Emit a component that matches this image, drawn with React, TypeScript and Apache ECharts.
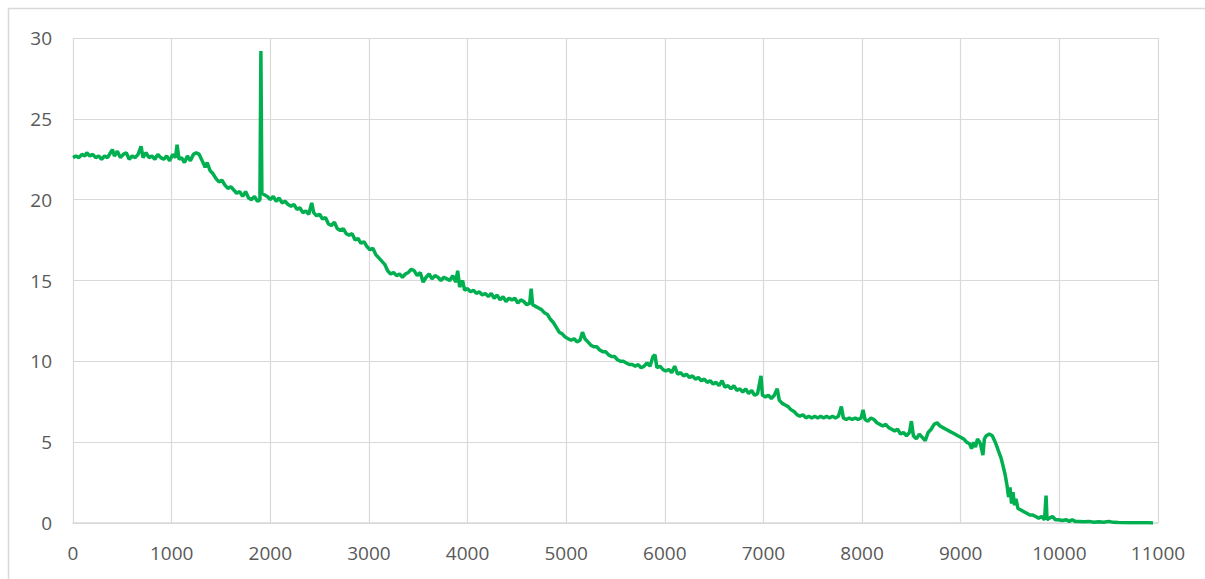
import React, { useEffect, useRef } from "react";
import * as echarts from "echarts";

const xTicks = { min: 0, max: 11000, interval: 1000 };
const yTicks = { min: 0, max: 30, interval: 5 };

const plateau: [number, number][] = [
  [0, 22.6], [30, 22.7], [60, 22.6], [90, 22.8], [120, 22.7], [140, 22.9], [170, 22.7], [200, 22.8],
  [230, 22.6], [260, 22.7], [290, 22.5], [320, 22.7], [350, 22.6], [380, 22.9], [400, 23.1], [420, 22.7],
  [450, 23.0], [480, 22.6], [510, 22.8], [540, 22.9], [570, 22.5], [600, 22.7], [630, 22.6], [660, 22.8],
  [690, 23.3], [710, 22.6], [740, 22.9], [770, 22.6], [800, 22.7], [830, 22.5], [860, 22.8], [890, 22.6],
  [920, 22.5], [950, 22.7], [980, 22.4], [1010, 22.8], [1040, 22.6], [1055, 23.4], [1075, 22.5], [1100, 22.6],
  [1130, 22.3], [1160, 22.7], [1190, 22.4], [1220, 22.8], [1250, 22.9], [1280, 22.8], [1310, 22.4], [1340, 22.0],
  [1360, 22.3],
];

const firstDecline: [number, number][] = [
  [1390, 21.8], [1420, 21.6], [1450, 21.3], [1480, 21.1], [1510, 21.2], [1540, 20.9], [1570, 20.7], [1600, 20.8],
  [1630, 20.6], [1660, 20.4], [1690, 20.5], [1720, 20.2], [1750, 20.5], [1780, 20.1], [1810, 20.0], [1840, 20.2],
  [1870, 19.9], [1895, 20.0], [1905, 29.2], [1915, 20.4], [1940, 20.3], [1970, 20.2], [2000, 20.0], [2030, 20.2],
  [2060, 19.9], [2090, 20.1], [2120, 19.8], [2150, 19.9], [2180, 19.7], [2210, 19.6], [2240, 19.7], [2270, 19.4],
  [2300, 19.5], [2330, 19.2], [2360, 19.3], [2390, 19.1], [2420, 19.8], [2440, 19.2], [2470, 19.0], [2500, 19.1],
  [2530, 18.8], [2560, 18.9], [2590, 18.5], [2620, 18.4], [2650, 18.6], [2680, 18.2], [2710, 18.1], [2740, 18.2],
  [2770, 17.9], [2800, 17.8], [2830, 17.9], [2860, 17.5], [2890, 17.6], [2920, 17.3], [2950, 17.4], [2980, 17.1],
  [3010, 16.9], [3040, 17.0], [3070, 16.6], [3100, 16.4], [3130, 16.2], [3160, 16.0], [3190, 15.6], [3220, 15.4],
  [3250, 15.5], [3280, 15.3], [3310, 15.4], [3340, 15.2], [3370, 15.4], [3400, 15.5], [3430, 15.7], [3460, 15.6],
  [3490, 15.3], [3520, 15.5], [3550, 14.9], [3580, 15.2], [3610, 15.4], [3640, 15.1], [3670, 15.3], [3700, 15.2],
  [3730, 15.0], [3760, 15.2], [3790, 15.1], [3820, 15.0], [3850, 15.3], [3880, 14.9], [3900, 15.6], [3920, 14.6],
  [3950, 15.0], [3970, 14.4], [4000, 14.5], [4030, 14.3], [4060, 14.4], [4090, 14.2], [4120, 14.3], [4150, 14.1],
  [4180, 14.2], [4210, 14.0], [4240, 14.2], [4270, 13.9], [4300, 14.1], [4330, 13.8], [4360, 14.0], [4390, 13.7],
  [4420, 13.9], [4450, 13.8], [4480, 13.9], [4510, 13.6], [4540, 13.8], [4570, 13.7], [4600, 13.5], [4630, 13.6],
  [4645, 14.5], [4660, 13.5], [4690, 13.4], [4720, 13.3], [4750, 13.2], [4780, 13.0], [4810, 12.9], [4840, 12.6],
  [4870, 12.4], [4900, 12.1], [4930, 11.8], [4960, 11.7], [4990, 11.5],
];

const middleDecline: [number, number][] = [
  [5020, 11.4], [5050, 11.3], [5080, 11.4], [5110, 11.2], [5140, 11.3], [5165, 11.8], [5190, 11.4], [5220, 11.2],
  [5250, 11.0], [5280, 10.9], [5310, 10.9], [5340, 10.7], [5370, 10.6], [5400, 10.6], [5430, 10.4], [5460, 10.3],
  [5490, 10.3], [5520, 10.1], [5550, 10.0], [5580, 10.0], [5610, 9.9], [5640, 9.8], [5670, 9.8], [5700, 9.7],
  [5730, 9.8], [5760, 9.6], [5790, 9.7], [5820, 9.9], [5850, 9.7], [5880, 10.3], [5900, 10.4], [5920, 9.6],
  [5950, 9.7], [5980, 9.5], [6010, 9.4], [6040, 9.5], [6070, 9.3], [6100, 9.7], [6130, 9.2], [6160, 9.3],
  [6190, 9.1], [6220, 9.2], [6250, 9.0], [6280, 9.1], [6310, 8.9], [6340, 9.0], [6370, 8.8], [6400, 8.9],
  [6430, 8.7], [6460, 8.8], [6490, 8.6], [6520, 8.7], [6550, 8.5], [6580, 8.8], [6610, 8.4], [6640, 8.5],
  [6670, 8.3], [6700, 8.5], [6730, 8.2], [6760, 8.3], [6790, 8.1], [6820, 8.3], [6850, 8.0], [6880, 8.2],
  [6910, 7.9], [6940, 8.0], [6975, 9.1], [6990, 7.9], [7020, 7.8], [7050, 7.9], [7080, 7.7], [7110, 7.9],
  [7140, 8.3], [7160, 7.6], [7190, 7.4], [7220, 7.3], [7250, 7.2], [7280, 7.0], [7310, 6.9], [7340, 6.7],
  [7370, 6.6], [7400, 6.7], [7430, 6.5], [7460, 6.6], [7490, 6.5], [7520, 6.6], [7550, 6.5], [7580, 6.6],
  [7610, 6.5], [7640, 6.6], [7670, 6.5], [7700, 6.6], [7730, 6.5], [7760, 6.6], [7790, 7.2], [7810, 6.5],
  [7840, 6.4], [7870, 6.5], [7900, 6.4], [7930, 6.5], [7960, 6.4], [7990, 6.5], [8010, 7.0], [8030, 6.4],
  [8060, 6.3], [8090, 6.5], [8120, 6.4], [8150, 6.2], [8180, 6.1], [8210, 6.0], [8240, 6.1], [8270, 5.9],
  [8300, 5.8], [8330, 5.7], [8360, 5.8], [8390, 5.5], [8420, 5.6], [8450, 5.4], [8480, 5.6], [8500, 6.3],
  [8520, 5.4], [8550, 5.2], [8580, 5.5], [8610, 5.3], [8640, 5.1], [8670, 5.6], [8700, 5.8], [8730, 6.1],
  [8760, 6.2], [8790, 6.0], [8820, 5.9], [8850, 5.8], [8880, 5.7], [8910, 5.6], [8940, 5.5], [8970, 5.4],
  [9000, 5.3], [9030, 5.2], [9060, 5.0], [9090, 4.9], [9110, 4.6], [9130, 5.0], [9150, 4.7], [9170, 5.2],
  [9200, 4.9], [9225, 4.2], [9240, 5.2], [9260, 5.4], [9290, 5.5], [9320, 5.4],
];

const tail: [number, number][] = [
  [9350, 5.0], [9380, 4.5], [9410, 4.0], [9430, 3.5], [9450, 3.0], [9470, 2.3], [9485, 1.6], [9500, 2.2],
  [9515, 1.2], [9530, 1.9], [9545, 1.1], [9560, 1.5], [9580, 0.9], [9610, 0.8], [9640, 0.7], [9670, 0.6],
  [9700, 0.5], [9730, 0.5], [9760, 0.4], [9790, 0.3], [9820, 0.4], [9850, 0.2], [9865, 1.7], [9875, 0.2],
  [9900, 0.3], [9930, 0.4], [9960, 0.2], [9990, 0.2], [10030, 0.15], [10070, 0.2], [10100, 0.1], [10130, 0.2],
  [10160, 0.1], [10200, 0.1], [10250, 0.08], [10300, 0.1], [10350, 0.05], [10400, 0.08], [10450, 0.05],
  [10500, 0.1], [10550, 0.04], [10600, 0.03], [10700, 0.02], [10800, 0.02], [10900, 0.01], [10950, 0],
];

const seriesData = [...plateau, ...firstDecline, ...middleDecline, ...tail];

export default function App() {
  const ref = useRef<HTMLDivElement>(null);
  useEffect(() => {
    if (!ref.current) return;
    const chart = echarts.init(ref.current, null, { renderer: "svg" });
    const labelStyle = {
      color: "#595959",
      fontSize: 19,
      fontFamily: "'Open Sans', sans-serif",
      formatter: (v: number) => String(v),
    };
    chart.setOption({
      animation: false,
      backgroundColor: "#ffffff",
      graphic: [
        {
          type: "rect",
          shape: { x: 8.5, y: 8.5, width: 1250, height: 640 },
          style: { fill: "none", stroke: "#d9d9d9", lineWidth: 1.5 },
          silent: true,
        },
      ],
      grid: { left: 73, top: 38, right: 47, bottom: 56 },
      xAxis: {
        type: "value",
        min: xTicks.min,
        max: xTicks.max,
        interval: xTicks.interval,
        axisLine: { show: true, lineStyle: { color: "#d9d9d9", width: 1.5 } },
        axisTick: { show: false },
        axisLabel: { ...labelStyle, margin: 20 },
        splitLine: { show: true, lineStyle: { color: "#d9d9d9", width: 1.2 } },
      },
      yAxis: {
        type: "value",
        min: yTicks.min,
        max: yTicks.max,
        interval: yTicks.interval,
        axisLine: { show: false },
        axisTick: { show: false },
        axisLabel: { ...labelStyle, margin: 21 },
        splitLine: { show: true, lineStyle: { color: "#d9d9d9", width: 1.2 } },
      },
      series: [
        {
          type: "line",
          data: seriesData,
          showSymbol: false,
          lineStyle: { color: "#00b050", width: 3.5 },
          itemStyle: { color: "#00b050" },
        },
      ],
    });
    return () => chart.dispose();
  }, []);
  return (
    <div
      ref={ref}
      style={{ position: "fixed", left: 0, top: 0, width: 1205, height: 579 }}
    />
  );
}
